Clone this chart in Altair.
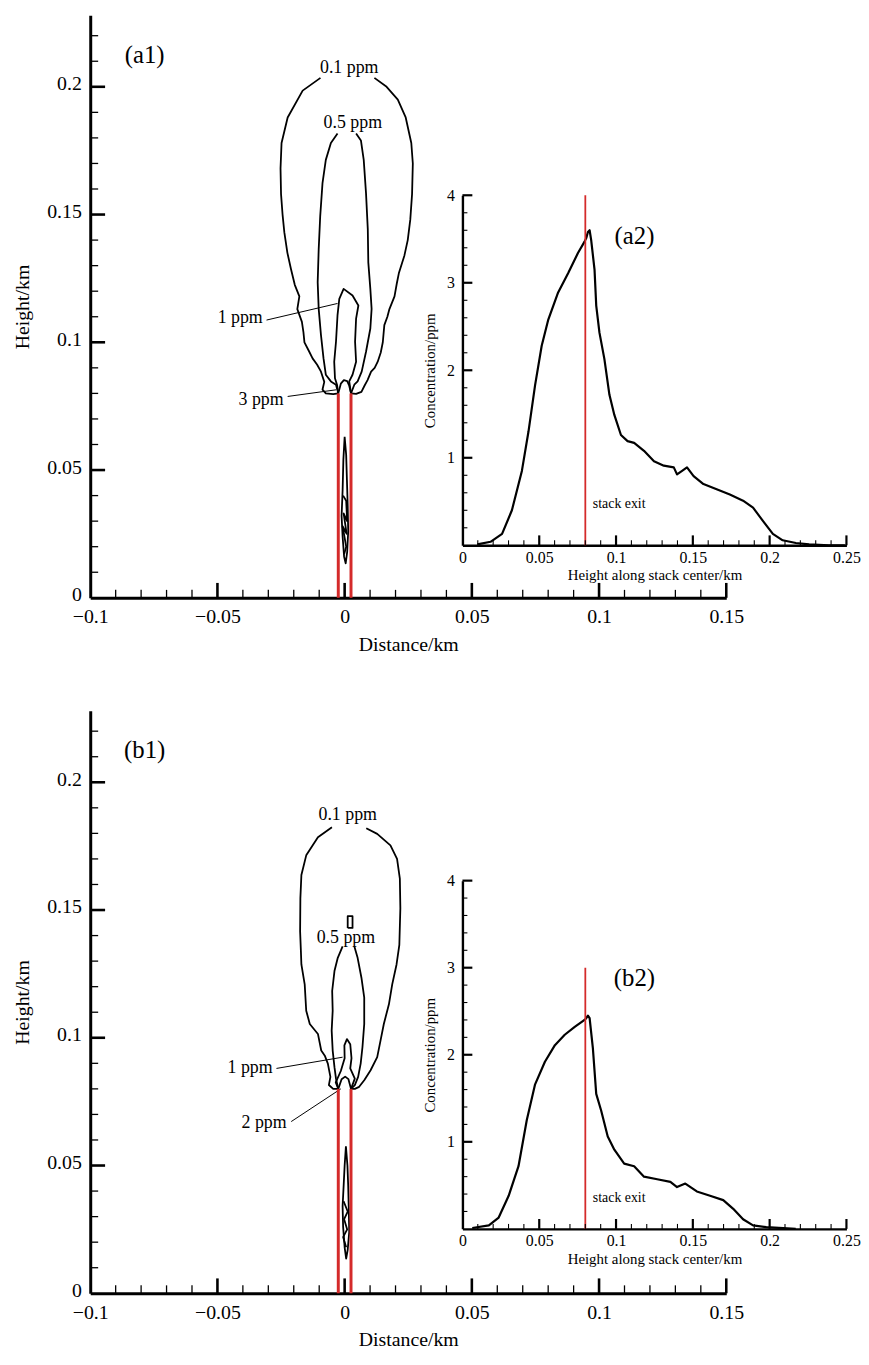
import altair as alt
import pandas as pd

FONT = "Liberation Serif"
RED = "#d42a2a"

# ---------------- axis ticks / labels ----------------
MAIN_X_LABELS = [-0.1, -0.05, 0.0, 0.05, 0.1, 0.15]
MAIN_X_MAJOR = [-0.05, 0.0, 0.05, 0.1, 0.15]
MAIN_X_MINOR = [-0.09, -0.08, -0.07, -0.06, -0.04, -0.03, -0.02, -0.01, 0.01, 0.02,
                0.03, 0.04, 0.06, 0.07, 0.08, 0.09, 0.11, 0.12, 0.13, 0.14]
MAIN_Y_LABELS = [0.0, 0.05, 0.1, 0.15, 0.2]
MAIN_Y_MAJOR = [0.05, 0.1, 0.15, 0.2]
MAIN_Y_MINOR = [0.01, 0.02, 0.03, 0.04, 0.06, 0.07, 0.08, 0.09, 0.11, 0.12, 0.13, 0.14,
                0.16, 0.17, 0.18, 0.19, 0.21, 0.22]
INSET_X_LABELS = [0.0, 0.05, 0.1, 0.15, 0.2, 0.25]
INSET_X_MAJOR = [0.05, 0.1, 0.15, 0.2, 0.25]
INSET_X_MINOR = [0.01, 0.02, 0.03, 0.04, 0.06, 0.07, 0.08, 0.09, 0.11, 0.12, 0.13, 0.14,
                 0.16, 0.17, 0.18, 0.19, 0.21, 0.22, 0.23, 0.24]
INSET_Y_LABELS = [1, 2, 3, 4]
INSET_Y_MAJOR = [1, 2, 3, 4]
INSET_Y_MINOR = [0.2, 0.4, 0.6, 0.8, 1.2, 1.4, 1.6, 1.8, 2.2, 2.4, 2.6, 2.8,
                 3.2, 3.4, 3.6, 3.8]

# ---------------- panel (a1) contours (Distance km, Height km) ----------------
A_C01_L_X = [-0.0095, -0.0165, -0.0224, -0.0248, -0.0252, -0.0250, -0.0244, -0.0237, -0.0225, -0.0211,
             -0.0196, -0.0178, -0.0186, -0.0168, -0.0162, -0.0158, -0.0140, -0.0126, -0.0108, -0.0093,
             -0.0080, -0.0087, -0.0074, -0.0045, -0.0025]
A_C01_L_Y = [0.2035, 0.1985, 0.1880, 0.1780, 0.1680, 0.1580, 0.1500, 0.1430, 0.1350, 0.1287,
             0.1225, 0.1180, 0.1130, 0.1080, 0.1040, 0.1000, 0.0965, 0.0937, 0.0912, 0.0885,
             0.0845, 0.0815, 0.0800, 0.0797, 0.0800]
A_C01_R_X = [0.0025, 0.0045, 0.0066, 0.0078, 0.0090, 0.0104, 0.0118, 0.0130, 0.0142, 0.0150,
             0.0156, 0.0168, 0.0176, 0.0196, 0.0205, 0.0213, 0.0235, 0.0248, 0.0258, 0.0265,
             0.0268, 0.0262, 0.0240, 0.0209, 0.0165, 0.0117]
A_C01_R_Y = [0.0800, 0.0798, 0.0806, 0.0830, 0.0852, 0.0885, 0.0900, 0.0924, 0.0960, 0.1000,
             0.1067, 0.1100, 0.1130, 0.1180, 0.1230, 0.1270, 0.1340, 0.1400, 0.1480, 0.1580,
             0.1700, 0.1780, 0.1880, 0.1950, 0.2000, 0.2035]
A_C05_L_X = [-0.0028, -0.0054, -0.0074, -0.0087, -0.0096, -0.0102, -0.0106, -0.0102, -0.0093, -0.0083,
             -0.0074, -0.0054, -0.0034, -0.0025]
A_C05_L_Y = [0.1817, 0.1780, 0.1714, 0.1623, 0.1494, 0.1364, 0.1235, 0.1131, 0.1028, 0.0937,
             0.0873, 0.0847, 0.0834, 0.0800]
A_C05_R_X = [0.0025, 0.0038, 0.0051, 0.0067, 0.0084, 0.0101, 0.0106, 0.0101, 0.0093, 0.0091,
             0.0084, 0.0075, 0.0064, 0.0045]
A_C05_R_Y = [0.0800, 0.0834, 0.0847, 0.0885, 0.0963, 0.1054, 0.1131, 0.1209, 0.1313, 0.1442,
             0.1584, 0.1714, 0.1790, 0.1817]
A_C1_X = [-0.0025, -0.0030, -0.0038, -0.0041, -0.0034, -0.0028, -0.0021, -0.0004, 0.0031, 0.0054,
          0.0045, 0.0041, 0.0045, 0.0031, 0.0018, 0.0025]
A_C1_Y = [0.0800, 0.0834, 0.0859, 0.0924, 0.1002, 0.1106, 0.1170, 0.1209, 0.1183, 0.1144,
          0.1093, 0.1002, 0.0924, 0.0873, 0.0847, 0.0800]
A_C3_X = [-0.0025, -0.0015, -0.0003, 0.0010, 0.0018, 0.0025]
A_C3_Y = [0.0800, 0.0838, 0.0852, 0.0848, 0.0830, 0.0800]
A_S1_X = [0.0000, 0.0006, 0.0009, 0.0012, 0.0014, 0.0010, 0.0004, -0.0002, -0.0008, -0.0012,
          -0.0008, -0.0005, 0.0000]
A_S1_Y = [0.0630, 0.0560, 0.0460, 0.0360, 0.0260, 0.0180, 0.0135, 0.0160, 0.0240, 0.0320,
          0.0420, 0.0540, 0.0630]
A_S2_X = [-0.0006, 0.0006, 0.0010, -0.0004, 0.0008, -0.0008, 0.0006, -0.0002]
A_S2_Y = [0.0400, 0.0380, 0.0300, 0.0330, 0.0250, 0.0280, 0.0200, 0.0170]

A_LEAD1_X = [-0.0307, -0.0028]
A_LEAD1_Y = [0.1087, 0.1152]
A_LEAD2_X = [-0.0224, -0.0034]
A_LEAD2_Y = [0.0788, 0.0814]

A_TOP_LABELS = ["0.1 ppm", "0.5 ppm"]
A_TOP_LABEL_X = [0.0018, 0.0032]
A_TOP_LABEL_Y = [0.2072, 0.1860]
A_SIDE_LABELS = ["1 ppm", "3 ppm"]
A_SIDE_LABEL_X = [-0.0322, -0.0240]
A_SIDE_LABEL_Y = [0.1095, 0.0775]

# ---------------- panel (b1) contours ----------------
B_C01_L_X = [-0.0050, -0.0105, -0.0151, -0.0170, -0.0174, -0.0175, -0.0172, -0.0170, -0.0157, -0.0151,
             -0.0137, -0.0105, -0.0092, -0.0078, -0.0066, -0.0056, -0.0062, -0.0045, -0.0025]
B_C01_L_Y = [0.1824, 0.1785, 0.1714, 0.1637, 0.1546, 0.1416, 0.1340, 0.1287, 0.1209, 0.1106,
             0.1054, 0.1015, 0.0950, 0.0930, 0.0899, 0.0847, 0.0815, 0.0800, 0.0800]
B_C01_R_X = [0.0025, 0.0040, 0.0057, 0.0077, 0.0102, 0.0128, 0.0141, 0.0154, 0.0174, 0.0187,
             0.0204, 0.0215, 0.0219, 0.0217, 0.0206, 0.0180, 0.0128, 0.0085]
B_C01_R_Y = [0.0800, 0.0800, 0.0808, 0.0834, 0.0873, 0.0924, 0.0989, 0.1054, 0.1131, 0.1209,
             0.1287, 0.1364, 0.1507, 0.1623, 0.1700, 0.1753, 0.1798, 0.1820]
B_C05_L_X = [-0.0008, -0.0027, -0.0040, -0.0049, -0.0047, -0.0051, -0.0047, -0.0040, -0.0034, -0.0025]
B_C05_L_Y = [0.1358, 0.1313, 0.1261, 0.1183, 0.1106, 0.1028, 0.0950, 0.0885, 0.0840, 0.0800]
B_C05_R_X = [0.0025, 0.0040, 0.0053, 0.0063, 0.0070, 0.0077, 0.0077, 0.0066, 0.0051, 0.0038]
B_C05_R_Y = [0.0800, 0.0815, 0.0847, 0.0899, 0.0963, 0.1054, 0.1157, 0.1235, 0.1313, 0.1358]
B_C1_X = [-0.0025, -0.0035, -0.0015, 0.0000, -0.0001, 0.0009, 0.0022, 0.0027, 0.0022, 0.0040, 0.0025]
B_C1_Y = [0.0800, 0.0825, 0.0870, 0.0920, 0.0970, 0.0995, 0.0975, 0.0920, 0.0880, 0.0840, 0.0800]
B_C2_X = [-0.0025, -0.0012, 0.0002, 0.0015, 0.0025]
B_C2_Y = [0.0800, 0.0838, 0.0848, 0.0838, 0.0800]
B_BOX_X = [0.0012, 0.0031, 0.0031, 0.0012, 0.0012]
B_BOX_Y = [0.1430, 0.1430, 0.1476, 0.1476, 0.1430]
B_S1_X = [0.0005, 0.0011, 0.0014, 0.0016, 0.0018, 0.0012, 0.0006, 0.0000, -0.0006, -0.0008,
          -0.0004, 0.0000, 0.0005]
B_S1_Y = [0.0575, 0.0500, 0.0420, 0.0340, 0.0240, 0.0170, 0.0136, 0.0180, 0.0260, 0.0340,
          0.0420, 0.0500, 0.0575]
B_S2_X = [-0.0004, 0.0012, -0.0002, 0.0010, -0.0006, 0.0006]
B_S2_Y = [0.0360, 0.0320, 0.0290, 0.0250, 0.0220, 0.0180]

B_LEAD1_X = [-0.0268, -0.0008]
B_LEAD1_Y = [0.0880, 0.0924]
B_LEAD2_X = [-0.0210, -0.0015]
B_LEAD2_Y = [0.0672, 0.0800]

B_TOP_LABELS = ["0.1 ppm", "0.5 ppm"]
B_TOP_LABEL_X = [0.0012, 0.0005]
B_TOP_LABEL_Y = [0.1870, 0.1390]
B_SIDE_LABELS = ["1 ppm", "2 ppm"]
B_SIDE_LABEL_X = [-0.0283, -0.0228]
B_SIDE_LABEL_Y = [0.0880, 0.0665]

# stack walls (km) and exit height
STACK_WALL_X = [-0.0025, 0.0025]
STACK_EXIT = 0.08

PANEL_TAGS = ["(a1)", "(b1)"]
TAG_X = -0.0786
TAG_Y = 0.2126

# ---------------- insets: concentration along stack centre ----------------
A2_X = [0.0097, 0.0183, 0.0258, 0.0322, 0.0387, 0.0430, 0.0473, 0.0516, 0.0559,
        0.0623, 0.0688, 0.0752, 0.0795, 0.0806, 0.0817, 0.0828, 0.0838, 0.0860, 0.0871,
        0.0892, 0.0924, 0.0957, 0.0989, 0.1032, 0.1075, 0.1118, 0.1182, 0.1247, 0.1311,
        0.1376, 0.1397, 0.1430, 0.1462, 0.1505, 0.1569, 0.1655, 0.1741, 0.1827, 0.1892,
        0.1956, 0.2021, 0.2085, 0.2171, 0.2257, 0.2386, 0.2490]
A2_Y = [0.01, 0.04, 0.13, 0.40, 0.85, 1.30, 1.83, 2.28, 2.58,
        2.89, 3.11, 3.34, 3.47, 3.51, 3.58, 3.60, 3.49, 3.15, 2.74,
        2.43, 2.13, 1.72, 1.49, 1.26, 1.19, 1.17, 1.08, 0.96, 0.91,
        0.89, 0.81, 0.85, 0.89, 0.79, 0.70, 0.64, 0.58, 0.51, 0.43,
        0.28, 0.13, 0.057, 0.026, 0.011, 0.0, 0.0]
B2_X = [0.0064, 0.0172, 0.0236, 0.0301, 0.0365, 0.0419, 0.0473, 0.0537, 0.0602, 0.0666,
        0.0731, 0.0795, 0.0806, 0.0817, 0.0828, 0.0849, 0.0871, 0.0903, 0.0946, 0.0989,
        0.1053, 0.1118, 0.1182, 0.1268, 0.1354, 0.1397, 0.1451, 0.1526, 0.1612, 0.1698,
        0.1763, 0.1827, 0.1892, 0.1978, 0.2170]
B2_Y = [0.01, 0.04, 0.13, 0.38, 0.72, 1.25, 1.66, 1.92, 2.11, 2.23,
        2.32, 2.40, 2.42, 2.45, 2.42, 2.08, 1.55, 1.36, 1.06, 0.91,
        0.75, 0.72, 0.60, 0.57, 0.54, 0.48, 0.52, 0.43, 0.38, 0.33,
        0.23, 0.11, 0.04, 0.02, 0.0]
INSET_TAGS = ["(a2)", "(b2)"]
INSET_TAG_X = 0.112
INSET_TAG_Y = [3.53, 2.88]
EXIT_LABEL = "stack exit"
EXIT_LABEL_X = 0.0849
EXIT_LABEL_Y = [0.47, 0.35]
EXIT_LINE_TOP = [4.0, 3.0]

# ---------------- layout ----------------
W, H = 642, 588
MX_DOM = [-0.1, 0.15]
MY_DOM = [0.0, 0.228]
IX_DOM = [0.0, 0.25]
IY_DOM = [0.0, 4.0]
INSET_XR = [[375.7, 763.3], [375.7, 763.3]]
INSET_YR = [[535.0, 181.7], [523.0, 171.5]]
LABEL_EXPR = "format(datum.value, '~g')"


def segments(items):
    rows = []
    for cid, xs, ys in items:
        for i, (x, y) in enumerate(zip(xs, ys)):
            rows.append({"cid": cid, "i": i, "x": x, "y": y})
    return pd.DataFrame(rows)


def tick_layers(xs, ys, x_major, x_minor, y_major, y_minor, x_base, y_base, lmaj, lmin, wmaj, wmin):
    out = []
    for vals, ln, wd in ((x_major, lmaj, wmaj), (x_minor, lmin, wmin)):
        df = pd.DataFrame({"v": vals, "b": [y_base] * len(vals)})
        out.append(alt.Chart(df).mark_rule(color="black", strokeWidth=wd, y2Offset=-ln).encode(
            x=alt.X("v:Q", scale=xs, axis=None),
            y=alt.Y("b:Q", scale=ys, axis=None),
            y2="b:Q"))
    for vals, ln, wd in ((y_major, lmaj, wmaj), (y_minor, lmin, wmin)):
        df = pd.DataFrame({"v": vals, "b": [x_base] * len(vals)})
        out.append(alt.Chart(df).mark_rule(color="black", strokeWidth=wd, x2Offset=ln).encode(
            y=alt.Y("v:Q", scale=ys, axis=None),
            x=alt.X("b:Q", scale=xs, axis=None),
            x2="b:Q"))
    return out


def panel(k, contours, leaders, top_lab, side_lab, curve_x, curve_y):
    xs = alt.Scale(domain=MX_DOM, nice=False, zero=False)
    ys = alt.Scale(domain=MY_DOM, nice=False, zero=False)
    x_axis = alt.Axis(orient="bottom", values=MAIN_X_LABELS, labelExpr=LABEL_EXPR, title="Distance/km",
                      ticks=False, domainWidth=3, domainColor="black", grid=False, labelFont=FONT,
                      labelFontSize=20, labelColor="black", labelPadding=9, labelFlush=False,
                      labelOverlap=False, titleFont=FONT, titleFontSize=20,
                      titleFontWeight="normal", titleColor="black", titlePadding=8)
    y_axis = alt.Axis(orient="left", values=MAIN_Y_LABELS, labelExpr=LABEL_EXPR, title="Height/km",
                      ticks=False, domainWidth=3, domainColor="black", grid=False, labelFont=FONT,
                      labelFontSize=20, labelColor="black", labelPadding=9, labelFlush=False,
                      labelOffset=-3, labelOverlap=False, titleFont=FONT, titleFontSize=20,
                      titleFontWeight="normal", titleColor="black", titlePadding=14)

    cdf = segments(contours)
    lines = alt.Chart(cdf).mark_line(color="black", strokeWidth=1.8, strokeJoin="round").encode(
        x=alt.X("x:Q", scale=xs, axis=x_axis),
        y=alt.Y("y:Q", scale=ys, axis=y_axis),
        detail="cid:N", order="i:Q")
    ldf = segments(leaders)
    lead = alt.Chart(ldf).mark_line(color="black", strokeWidth=1).encode(
        x=alt.X("x:Q", scale=xs, axis=None), y=alt.Y("y:Q", scale=ys, axis=None),
        detail="cid:N", order="i:Q")
    wall_df = pd.DataFrame({"x": STACK_WALL_X, "y0": [0.0, 0.0], "y1": [STACK_EXIT, STACK_EXIT]})
    walls = alt.Chart(wall_df).mark_rule(color=RED, strokeWidth=3).encode(
        x=alt.X("x:Q", scale=xs, axis=None), y=alt.Y("y0:Q", scale=ys, axis=None), y2="y1:Q")
    tdf = pd.DataFrame({"x": top_lab[1], "y": top_lab[2], "t": top_lab[0]})
    top_text = alt.Chart(tdf).mark_text(font=FONT, fontSize=18, align="center", baseline="middle",
                                        color="black").encode(
        x=alt.X("x:Q", scale=xs, axis=None), y=alt.Y("y:Q", scale=ys, axis=None), text="t:N")
    sdf = pd.DataFrame({"x": side_lab[1], "y": side_lab[2], "t": side_lab[0]})
    side_text = alt.Chart(sdf).mark_text(font=FONT, fontSize=18, align="right", baseline="middle",
                                         color="black").encode(
        x=alt.X("x:Q", scale=xs, axis=None), y=alt.Y("y:Q", scale=ys, axis=None), text="t:N")
    gdf = pd.DataFrame({"x": [TAG_X], "y": [TAG_Y], "t": [PANEL_TAGS[k]]})
    tag = alt.Chart(gdf).mark_text(font=FONT, fontSize=25, align="center", baseline="middle",
                                   color="black").encode(
        x=alt.X("x:Q", scale=xs, axis=None), y=alt.Y("y:Q", scale=ys, axis=None), text="t:N")
    main_ticks = tick_layers(xs, ys, MAIN_X_MAJOR, MAIN_X_MINOR, MAIN_Y_MAJOR, MAIN_Y_MINOR,
                             MX_DOM[0], MY_DOM[0], 15, 8, 2.6, 1.3)

    # inset
    ixs = alt.Scale(domain=IX_DOM, range=INSET_XR[k], nice=False, zero=False)
    iys = alt.Scale(domain=IY_DOM, range=INSET_YR[k], nice=False, zero=False)
    ix_axis = alt.Axis(orient="bottom", offset=-(H - INSET_YR[k][0]), values=INSET_X_LABELS,
                       labelExpr=LABEL_EXPR, title="Height along stack center/km", ticks=False,
                       domainWidth=2.4, domainColor="black", grid=False, labelFont=FONT,
                       labelFontSize=16, labelColor="black", labelPadding=4, labelFlush=False,
                       labelOverlap=False, titleFont=FONT, titleFontSize=15,
                       titleFontWeight="normal", titleColor="black", titlePadding=3)
    iy_axis = alt.Axis(orient="left", offset=-INSET_XR[k][0], values=INSET_Y_LABELS,
                       labelExpr=LABEL_EXPR, title="Concentration/ppm", ticks=False,
                       domainWidth=2.4, domainColor="black", grid=False, labelFont=FONT,
                       labelFontSize=16, labelColor="black", labelPadding=8, labelFlush=False,
                       labelOverlap=False, titleFont=FONT, titleFontSize=15,
                       titleFontWeight="normal", titleColor="black", titlePadding=9)
    curve_df = pd.DataFrame({"h": curve_x, "c": curve_y})
    curve = alt.Chart(curve_df).mark_line(color="black", strokeWidth=2.2, strokeJoin="round").encode(
        x=alt.X("h:Q", scale=ixs, axis=ix_axis), y=alt.Y("c:Q", scale=iys, axis=iy_axis))
    exit_df = pd.DataFrame({"h": [STACK_EXIT], "c0": [0.0], "c1": [EXIT_LINE_TOP[k]]})
    exit_line = alt.Chart(exit_df).mark_rule(color=RED, strokeWidth=1.8).encode(
        x=alt.X("h:Q", scale=ixs, axis=None), y=alt.Y("c0:Q", scale=iys, axis=None), y2="c1:Q")
    etdf = pd.DataFrame({"h": [EXIT_LABEL_X], "c": [EXIT_LABEL_Y[k]], "t": [EXIT_LABEL]})
    exit_text = alt.Chart(etdf).mark_text(font=FONT, fontSize=14, align="left", baseline="middle",
                                          color="black").encode(
        x=alt.X("h:Q", scale=ixs, axis=None), y=alt.Y("c:Q", scale=iys, axis=None), text="t:N")
    itdf = pd.DataFrame({"h": [INSET_TAG_X], "c": [INSET_TAG_Y[k]], "t": [INSET_TAGS[k]]})
    itag = alt.Chart(itdf).mark_text(font=FONT, fontSize=25, align="center", baseline="middle",
                                     color="black").encode(
        x=alt.X("h:Q", scale=ixs, axis=None), y=alt.Y("c:Q", scale=iys, axis=None), text="t:N")
    inset_ticks = tick_layers(ixs, iys, INSET_X_MAJOR, INSET_X_MINOR, INSET_Y_MAJOR, INSET_Y_MINOR,
                              IX_DOM[0], IY_DOM[0], 10, 5, 2.2, 1.1)

    units = [lines, lead, walls, top_text, side_text, tag, *main_ticks,
             curve, exit_line, exit_text, itag, *inset_ticks]
    return alt.layer(*units).resolve_scale(x="independent", y="independent").properties(
        width=W, height=H)


panel_a = panel(
    0,
    [("a01L", A_C01_L_X, A_C01_L_Y), ("a01R", A_C01_R_X, A_C01_R_Y),
     ("a05L", A_C05_L_X, A_C05_L_Y), ("a05R", A_C05_R_X, A_C05_R_Y),
     ("a1", A_C1_X, A_C1_Y), ("a3", A_C3_X, A_C3_Y),
     ("as1", A_S1_X, A_S1_Y), ("as2", A_S2_X, A_S2_Y)],
    [("l1", A_LEAD1_X, A_LEAD1_Y), ("l2", A_LEAD2_X, A_LEAD2_Y)],
    (A_TOP_LABELS, A_TOP_LABEL_X, A_TOP_LABEL_Y),
    (A_SIDE_LABELS, A_SIDE_LABEL_X, A_SIDE_LABEL_Y),
    A2_X, A2_Y)

panel_b = panel(
    1,
    [("b01L", B_C01_L_X, B_C01_L_Y), ("b01R", B_C01_R_X, B_C01_R_Y),
     ("b05L", B_C05_L_X, B_C05_L_Y), ("b05R", B_C05_R_X, B_C05_R_Y),
     ("b1", B_C1_X, B_C1_Y), ("b2", B_C2_X, B_C2_Y), ("bbox", B_BOX_X, B_BOX_Y),
     ("bs1", B_S1_X, B_S1_Y), ("bs2", B_S2_X, B_S2_Y)],
    [("l1", B_LEAD1_X, B_LEAD1_Y), ("l2", B_LEAD2_X, B_LEAD2_Y)],
    (B_TOP_LABELS, B_TOP_LABEL_X, B_TOP_LABEL_Y),
    (B_SIDE_LABELS, B_SIDE_LABEL_X, B_SIDE_LABEL_Y),
    B2_X, B2_Y)

chart = alt.vconcat(panel_a, panel_b, spacing=55).properties(
    padding={"left": 4, "top": 0, "right": 0, "bottom": 0},
    background="white",
).configure_view(stroke="transparent")

chart.save("out.html", embed_options={"renderer": "svg", "actions": False})
